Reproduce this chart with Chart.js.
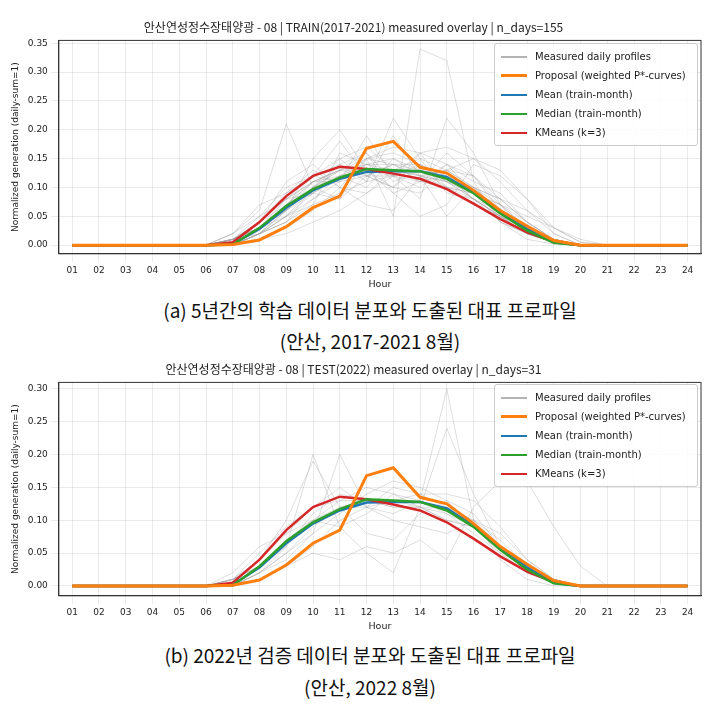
<!DOCTYPE html>
<html>
<head>
<meta charset="utf-8">
<script src="https://cdn.jsdelivr.net/npm/chart.js@4"></script>
<style>
  body { margin: 0; background: #fff; font-family: "Noto Sans CJK KR", "Noto Sans", sans-serif; }
  .wrap { position: absolute; left: 0; width: 715px; }
  .cap { position: absolute; left: 0; width: 740px; text-align: center; font-size: 19px; color: #111; }
  .legend { position: absolute; border: 1px solid #ccc; border-radius: 3px; background: rgba(255,255,255,0.85);
            padding: 3px 6px; font-family: "DejaVu Sans", sans-serif; font-size: 10px; color: #222; white-space: nowrap; }
  .legend div { display: flex; align-items: center; height: 19px; }
  .legend span.sw { display: inline-block; width: 26px; margin-right: 8px; }
</style>
</head>
<body>
<div class="wrap" style="top:18px;height:272px"><canvas id="c1"></canvas></div>
<div class="legend" style="left:494px;top:43px;width:190px" id="lg1"></div>
<div class="cap" style="top:296px">(a) 5년간의 학습 데이터 분포와 도출된 대표 프로파일</div>
<div class="cap" style="top:327px">(안산, 2017-2021 8월)</div>

<div class="wrap" style="top:360px;height:272px"><canvas id="c2"></canvas></div>
<div class="legend" style="left:494px;top:384px;width:190px" id="lg2"></div>
<div class="cap" style="top:641px">(b) 2022년 검증 데이터 분포와 도출된 대표 프로파일</div>
<div class="cap" style="top:673px">(안산, 2022 8월)</div>

<script>
const hours = ['01','02','03','04','05','06','07','08','09','10','11','12','13','14','15','16','17','18','19','20','21','22','23','24'];
const yTicksTrain = [0, 0.05, 0.10, 0.15, 0.20, 0.25, 0.30, 0.35];
const yTicksTest = [0, 0.05, 0.10, 0.15, 0.20, 0.25, 0.30];

const proposal = [0,0,0,0,0,0,0.001,0.009,0.032,0.065,0.085,0.168,0.180,0.135,0.125,0.095,0.060,0.033,0.008,0,0,0,0,0];
const meanCurve = [0,0,0,0,0,0,0.002,0.028,0.065,0.095,0.115,0.127,0.128,0.128,0.118,0.092,0.058,0.028,0.005,0,0,0,0,0];
const medianCurve = [0,0,0,0,0,0,0.001,0.030,0.068,0.097,0.117,0.132,0.130,0.128,0.115,0.090,0.055,0.025,0.004,0,0,0,0,0];
const kmeansCurve = [0,0,0,0,0,0,0.005,0.040,0.085,0.120,0.136,0.132,0.124,0.115,0.097,0.072,0.045,0.022,0.006,0,0,0,0,0];

// measured daily profiles, hours 07..20 (other hours are zero)
const trainDays = [
  [0.01,0.04,0.08,0.11,0.13,0.14,0.13,0.12,0.11,0.09,0.06,0.03,0.01,0],
  [0.00,0.02,0.05,0.09,0.12,0.15,0.16,0.14,0.12,0.09,0.05,0.02,0.005,0],
  [0.02,0.06,0.21,0.10,0.08,0.12,0.10,0.14,0.10,0.07,0.05,0.03,0.01,0],
  [0.01,0.03,0.06,0.15,0.20,0.13,0.09,0.11,0.12,0.08,0.06,0.02,0.01,0],
  [0.00,0.01,0.03,0.06,0.10,0.15,0.05,0.34,0.32,0.11,0.04,0.02,0.005,0],
  [0.01,0.05,0.10,0.12,0.18,0.12,0.10,0.09,0.13,0.10,0.06,0.03,0.01,0],
  [0.00,0.02,0.04,0.07,0.09,0.11,0.22,0.15,0.13,0.12,0.08,0.04,0.01,0],
  [0.01,0.03,0.07,0.10,0.12,0.13,0.13,0.12,0.11,0.10,0.08,0.06,0.03,0.005],
  [0.00,0.02,0.05,0.08,0.11,0.19,0.12,0.08,0.22,0.16,0.07,0.03,0.01,0],
  [0.02,0.07,0.09,0.13,0.10,0.07,0.06,0.12,0.13,0.15,0.13,0.08,0.02,0],
  [0.00,0.01,0.02,0.04,0.06,0.09,0.12,0.16,0.17,0.15,0.11,0.06,0.02,0],
  [0.01,0.04,0.09,0.12,0.14,0.12,0.14,0.13,0.10,0.09,0.07,0.04,0.01,0],
  [0.00,0.02,0.06,0.11,0.13,0.16,0.09,0.05,0.07,0.14,0.12,0.08,0.03,0.005],
  [0.01,0.03,0.05,0.07,0.16,0.14,0.15,0.13,0.11,0.08,0.04,0.02,0.005,0],
  [0.005,0.03,0.07,0.11,0.13,0.13,0.12,0.13,0.12,0.10,0.07,0.03,0.01,0],
  [0.01,0.04,0.08,0.09,0.08,0.15,0.17,0.16,0.10,0.07,0.05,0.03,0.01,0],
  [0.00,0.02,0.04,0.10,0.15,0.17,0.13,0.11,0.14,0.09,0.04,0.01,0.002,0],
  [0.02,0.05,0.08,0.11,0.11,0.12,0.12,0.11,0.10,0.09,0.07,0.05,0.03,0.01],
  [0.00,0.02,0.06,0.10,0.14,0.11,0.19,0.12,0.05,0.10,0.08,0.04,0.01,0],
  [0.01,0.03,0.06,0.09,0.12,0.14,0.14,0.14,0.11,0.08,0.05,0.02,0.005,0],
  [0.00,0.03,0.07,0.12,0.15,0.11,0.12,0.10,0.14,0.11,0.09,0.04,0.01,0],
  [0.01,0.02,0.04,0.08,0.12,0.13,0.10,0.16,0.14,0.12,0.06,0.02,0.005,0],
  [0.00,0.04,0.11,0.14,0.10,0.09,0.13,0.15,0.09,0.08,0.05,0.02,0.005,0],
  [0.01,0.03,0.06,0.10,0.13,0.15,0.14,0.12,0.10,0.08,0.05,0.02,0.01,0],
  [0.00,0.02,0.07,0.11,0.12,0.10,0.15,0.12,0.13,0.10,0.06,0.03,0.01,0],
  [0.01,0.04,0.07,0.09,0.14,0.16,0.11,0.13,0.12,0.08,0.05,0.03,0.01,0],
  [0.00,0.02,0.05,0.10,0.13,0.12,0.14,0.11,0.16,0.12,0.07,0.02,0.005,0],
  [0.01,0.03,0.08,0.12,0.11,0.14,0.12,0.14,0.11,0.09,0.06,0.03,0.01,0]
];
const testDays = [
  [0.01,0.04,0.10,0.19,0.12,0.08,0.07,0.11,0.13,0.09,0.06,0.03,0.01,0],
  [0.00,0.02,0.05,0.08,0.20,0.12,0.11,0.13,0.30,0.10,0.04,0.01,0,0],
  [0.01,0.05,0.09,0.12,0.13,0.13,0.12,0.12,0.11,0.09,0.06,0.03,0.01,0],
  [0.00,0.01,0.03,0.05,0.04,0.06,0.05,0.07,0.04,0.12,0.16,0.16,0.09,0.03],
  [0.01,0.03,0.07,0.10,0.13,0.15,0.14,0.12,0.10,0.09,0.06,0.03,0.01,0],
  [0.00,0.02,0.04,0.08,0.11,0.14,0.16,0.15,0.13,0.11,0.06,0.02,0.005,0],
  [0.02,0.06,0.08,0.10,0.09,0.05,0.02,0.12,0.24,0.14,0.06,0.02,0.01,0],
  [0.01,0.03,0.06,0.11,0.14,0.13,0.13,0.12,0.10,0.09,0.05,0.03,0.01,0],
  [0.00,0.02,0.05,0.09,0.12,0.12,0.15,0.14,0.12,0.10,0.07,0.03,0.01,0],
  [0.01,0.04,0.08,0.12,0.15,0.12,0.10,0.09,0.08,0.10,0.08,0.04,0.01,0],
  [0.00,0.01,0.03,0.06,0.10,0.12,0.13,0.14,0.14,0.13,0.09,0.04,0.01,0],
  [0.01,0.03,0.07,0.10,0.12,0.13,0.12,0.12,0.12,0.10,0.06,0.02,0.005,0],
  [0.00,0.02,0.06,0.20,0.09,0.11,0.14,0.13,0.11,0.08,0.05,0.02,0.005,0]
];

const padDay = d => [0,0,0,0,0,0].concat(d, [0,0,0,0]);

const legendItems = [
  ['Measured daily profiles', 'rgba(180,180,180,1)', 2],
  ['Proposal (weighted P*-curves)', '#ff7f0e', 3],
  ['Mean (train-month)', '#1f77b4', 2.5],
  ['Median (train-month)', '#2ca02c', 2.5],
  ['KMeans (k=3)', '#d62728', 2.5]
];

function buildLegend(id) {
  document.getElementById(id).innerHTML = legendItems.map(([t, c, w]) =>
    `<div><span class="sw" style="border-top:${w}px solid ${c}"></span>${t}</div>`).join('');
}

// full box around the plot area, like matplotlib spines
const frame = {
  id: 'frame',
  afterDraw(chart) {
    const { ctx, chartArea: a } = chart;
    ctx.save();
    ctx.strokeStyle = '#333';
    ctx.lineWidth = 1;
    ctx.strokeRect(a.left, a.top, a.right - a.left, a.bottom - a.top);
    ctx.restore();
  }
};

function makeChart(id, title, days, yMax, yTicks) {
  const grey = days.map(d => ({
    data: padDay(d), borderColor: 'rgba(160,160,160,0.35)', borderWidth: 1, pointRadius: 0, order: 10
  }));
  const main = [
    { data: kmeansCurve, borderColor: '#d62728', borderWidth: 2.5, pointRadius: 0, order: 4 },
    { data: medianCurve, borderColor: '#2ca02c', borderWidth: 2.5, pointRadius: 0, order: 3 },
    { data: meanCurve, borderColor: '#1f77b4', borderWidth: 2.5, pointRadius: 0, order: 5 },
    { data: proposal, borderColor: '#ff7f0e', borderWidth: 3, pointRadius: 0, order: 1 }
  ];
  new Chart(document.getElementById(id), {
    type: 'line',
    data: { labels: hours, datasets: grey.concat(main) },
    options: {
      responsive: true, maintainAspectRatio: false, animation: false,
      layout: { padding: { right: 14, left: 6 } },
      plugins: {
        legend: { display: false }, tooltip: { enabled: false },
        title: { display: true, text: title, color: '#222', padding: { top: 2, bottom: 6 },
                 font: { family: '"Noto Sans CJK KR", "DejaVu Sans"', size: 12, weight: 'normal' } }
      },
      scales: {
        x: {
          offset: true,
          grid: { color: 'rgba(0,0,0,0.08)', offset: false },
          border: { color: '#333' },
          ticks: { color: '#222', font: { family: 'DejaVu Sans', size: 9 }, maxRotation: 0, autoSkip: false },
          title: { display: true, text: 'Hour', color: '#222', padding: 0, font: { family: 'DejaVu Sans', size: 9.5 } }
        },
        y: {
          min: -0.015, max: yMax,
          grid: { color: 'rgba(0,0,0,0.08)' },
          border: { color: '#333' },
          afterBuildTicks: a => { a.ticks = yTicks.map(v => ({ value: v })); },
          ticks: { color: '#222', font: { family: 'DejaVu Sans', size: 9 }, callback: v => v.toFixed(2) },
          title: { display: true, text: 'Normalized generation (daily-sum=1)', color: '#222', font: { family: 'DejaVu Sans', size: 9 } }
        }
      }
    },
    plugins: [frame]
  });
}

makeChart('c1', '안산연성정수장태양광 - 08 | TRAIN(2017-2021) measured overlay | n_days=155', trainDays, 0.355, yTicksTrain);
makeChart('c2', '안산연성정수장태양광 - 08 | TEST(2022) measured overlay | n_days=31', testDays, 0.31, yTicksTest);
buildLegend('lg1');
buildLegend('lg2');
</script>
</body>
</html>
